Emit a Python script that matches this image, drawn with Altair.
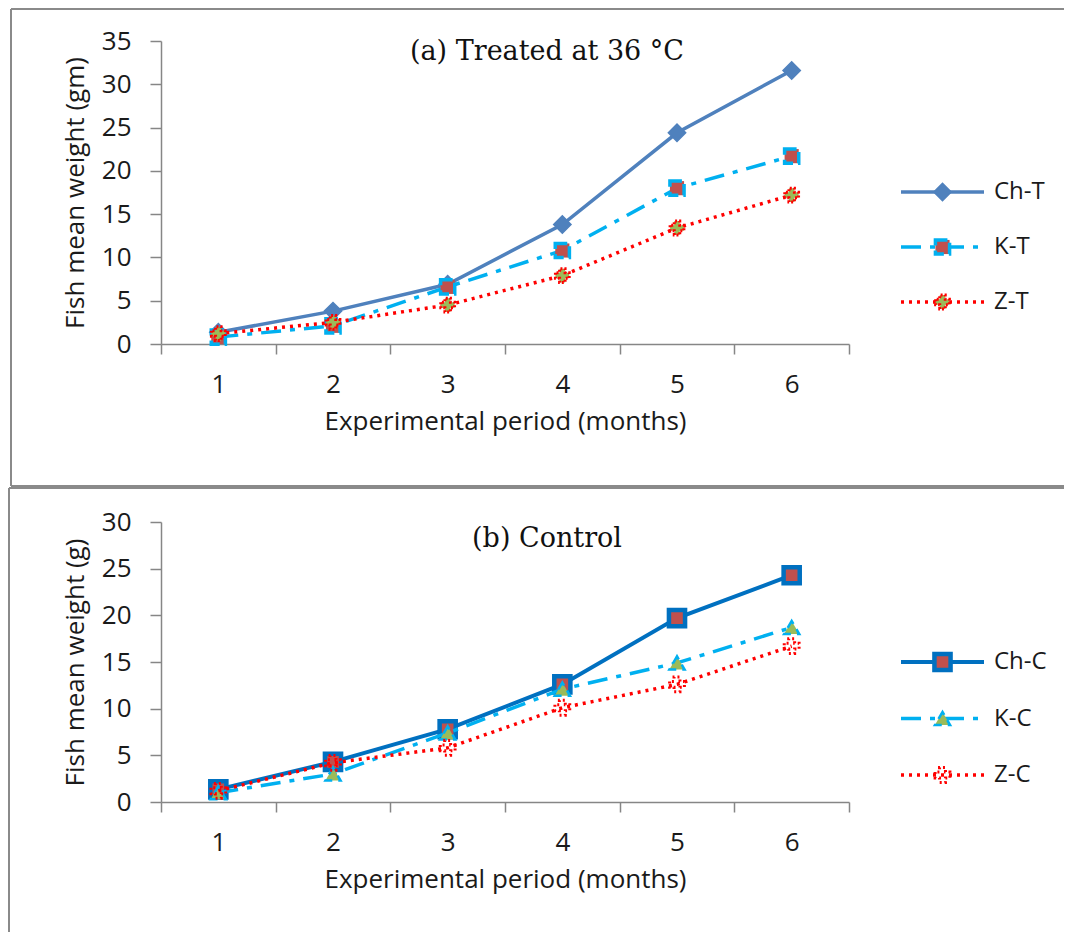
import altair as alt
import pandas as pd

months = [1, 2, 3, 4, 5, 6]

# Panel (a): treated at 36 °C
names_a = ["Ch-T", "K-T", "Z-T"]
ch_t = [1.35, 3.8, 6.9, 13.8, 24.4, 31.6]
k_t = [0.8, 2.1, 6.6, 10.8, 18.0, 21.7]
z_t = [1.2, 2.5, 4.5, 7.9, 13.4, 17.2]

# Panel (b): control
names_b = ["Ch-C", "K-C", "Z-C"]
ch_c = [1.35, 4.3, 7.8, 12.6, 19.7, 24.3]
k_c = [1.0, 3.0, 7.4, 12.1, 14.9, 18.7]
z_c = [1.2, 4.2, 5.8, 10.1, 12.6, 16.7]

W = 688
LABEL_FONT = "Open Sans"
GRAY = "#868686"

styles_a = [
    dict(color="#4F81BD", dash=None, shape="diamond", fill="#4F81BD", stroke="#4F81BD", sdash=None, size=300, sw=1.5, lw=3.5),
    dict(color="#00B0F0", dash=[20, 9, 5, 9], shape="square", fill="#C0504D", stroke="#00B0F0", sdash=[12, 5], size=200, sw=3.5, lw=3.5),
    dict(color="#FF0000", dash=[3, 5], shape="cross", fill="#9BBB59", stroke="#FF0000", sdash=[2, 2], size=190, sw=3, lw=3.5),
]
styles_b = [
    dict(color="#0070C0", dash=None, shape="square", fill="#C0504D", stroke="#0070C0", sdash=None, size=260, sw=4.5, lw=4),
    dict(color="#00B0F0", dash=[20, 9, 5, 9], shape="triangle-up", fill="#9BBB59", stroke="#00B0F0", sdash=[8, 6], size=230, sw=2.5, lw=3.5),
    dict(color="#FF0000", dash=[3, 5], shape="cross", fill="none", stroke="#FF0000", sdash=[2, 3], size=220, sw=3, lw=3.5),
]


def panel(names, series, styles, ymax, ytitle, title_text, title_y, height, leg_y, borders):
    xenc = alt.X(
        "month:O",
        scale=alt.Scale(type="band", paddingInner=0, paddingOuter=0),
        bandPosition=0.5,
        axis=alt.Axis(
            title="Experimental period (months)",
            labelAngle=0,
            tickBand="extent",
            tickSize=10,
            labelPadding=17,
            titlePadding=11,
            labelFontSize=26,
            titleFontSize=26,
        ),
    )
    yenc = alt.Y(
        "value:Q",
        scale=alt.Scale(domain=[0, ymax], nice=False),
        axis=alt.Axis(
            title=ytitle,
            values=list(range(0, ymax + 1, 5)),
            grid=False,
            tickSize=11,
            labelPadding=19,
            titlePadding=13,
            labelFontSize=26,
            titleFontSize=26,
        ),
    )
    layers = []
    for name, vals, st in zip(names, series, styles):
        df = pd.DataFrame({"month": months, "value": vals, "series": name})
        lk = dict(color=st["color"], strokeWidth=st["lw"])
        if st["dash"]:
            lk["strokeDash"] = st["dash"]
        layers.append(alt.Chart(df).mark_line(**lk).encode(x=xenc, y=yenc))
        pk = dict(shape=st["shape"], size=st["size"], fill=st["fill"], stroke=st["stroke"],
                  strokeWidth=st["sw"], opacity=1, filled=st["fill"] != "none")
        if st["sdash"]:
            pk["strokeDash"] = st["sdash"]
        layers.append(alt.Chart(df).mark_point(**pk).encode(x=xenc, y=yenc))
    main = alt.layer(*layers)

    # legend drawn with its own scales
    lx = alt.X("lx:Q", scale=alt.Scale(domain=[0, 1], range=[740, 823]), axis=None)
    ly = alt.Y("series:N", scale=alt.Scale(type="point", domain=names, range=leg_y, padding=0), axis=None)
    leg_layers = []
    for name, st in zip(names, styles):
        ldf = pd.DataFrame({"lx": [0, 1], "series": [name, name]})
        lk = dict(color=st["color"], strokeWidth=st["lw"])
        if st["dash"]:
            lk["strokeDash"] = st["dash"]
        leg_layers.append(alt.Chart(ldf).mark_line(**lk).encode(x=lx, y=ly, detail="series:N"))
        pdf = pd.DataFrame({"lx": [0.5], "series": [name]})
        pk = dict(shape=st["shape"], size=st["size"], fill=st["fill"], stroke=st["stroke"],
                  strokeWidth=st["sw"], opacity=1, filled=st["fill"] != "none")
        if st["sdash"]:
            pk["strokeDash"] = st["sdash"]
        leg_layers.append(alt.Chart(pdf).mark_point(**pk).encode(x=lx, y=ly))
    tdf = pd.DataFrame({"lx": [1] * len(names), "series": names})
    leg_layers.append(
        alt.Chart(tdf).mark_text(align="left", baseline="middle", dx=10, fontSize=24,
                                 font=LABEL_FONT, color="#1a1a1a").encode(x=lx, y=ly, text="series:N")
    )
    legend = alt.layer(*leg_layers)

    one = pd.DataFrame({"a": [0]})
    title = alt.Chart(one).mark_text(
        text=title_text, font="DejaVu Serif", fontSize=27, align="center",
        baseline="alphabetic", color="#111"
    ).encode(x=alt.value(386), y=alt.value(title_y))

    rules = []
    for b in borders:
        rules.append(alt.Chart(one).mark_rule(color="#8a8a8a", strokeWidth=2).encode(**b))

    return alt.layer(main, legend, title, *rules).resolve_scale(
        x="independent", y="independent"
    ).properties(width=W, height=height)


borders_a = [
    dict(x=alt.value(-150), y=alt.value(-32), y2=alt.value(445)),
    dict(x=alt.value(-150), x2=alt.value(903), y=alt.value(-32)),
    dict(x=alt.value(-150), x2=alt.value(903), y=alt.value(445)),
]
borders_b = [
    dict(x=alt.value(-152), y=alt.value(-34), y2=alt.value(410)),
    dict(x=alt.value(-152), x2=alt.value(903), y=alt.value(-34)),
]

pa = panel(names_a, [ch_t, k_t, z_t], styles_a, 35, "Fish mean weight (gm)",
           "(a) Treated at 36 °C", 19, 303, [151, 261], borders_a)
pb = panel(names_b, [ch_c, k_c, z_c], styles_b, 30, "Fish mean weight (g)",
           "(b) Control", 25, 280, [140, 253], borders_b)

chart = alt.vconcat(pa, pb, spacing=0).properties(padding=0).configure_view(stroke=None).configure_axis(
    domainColor=GRAY, tickColor=GRAY, domainWidth=1.5, tickWidth=1.5,
    labelFont=LABEL_FONT, titleFont=LABEL_FONT, labelColor="#1a1a1a", titleColor="#1a1a1a",
    titleFontWeight="normal",
)

chart.save("out.html", embed_options={"renderer": "svg", "actions": False})
